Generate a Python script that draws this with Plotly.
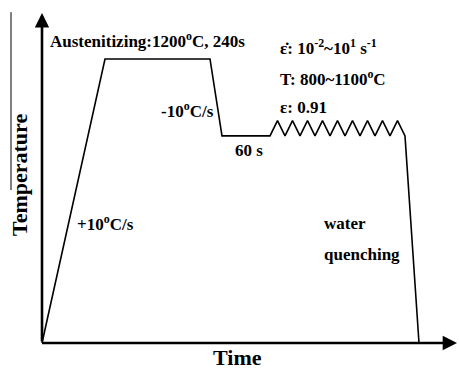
import plotly.graph_objects as go

# Schematic thermal profile (time in arbitrary units, temperature in °C)
time = [0, 63, 168, 180, 228,
        235.5, 243, 250.5, 258, 265.5, 273, 280.5, 288, 295.5, 303,
        310.5, 318, 325.5, 333, 340.5, 348, 355.5, 363, 377]
temp = [0, 1200, 1200, 875, 875,
        940, 875, 940, 875, 940, 875, 940, 875, 940, 875,
        940, 875, 940, 875, 940, 875, 940, 875, 0]

x_title = "Time"
y_title = "Temperature"
labels = [
    ("Austenitizing:1200<sup>o</sup>C, 240s", 6, 1280),
    ("-10<sup>o</sup>C/s", 117, 985),
    ("60 s", 191, 815),
    ("\u03b5\u0307: 10<sup>-2</sup>~10<sup>1</sup> s<sup>-1</sup>", 236, 1251),
    ("T: 800~1100<sup>o</sup>C", 236, 1120),
    ("\u03b5: 0.91", 236, 993),
    ("+10<sup>o</sup>C/s", 33, 507),
    ("water", 280, 507),
    ("quenching", 280, 372),
]

FONT = "Liberation Serif"
k = 284 / 1200.0  # px per degree (layout scale)

fig = go.Figure()
fig.add_trace(go.Scatter(x=time, y=temp, mode="lines",
                         line=dict(color="black", width=1.6),
                         hoverinfo="skip", showlegend=False))

ann = []
# axes with arrows
ann.append(dict(x=0, y=1394, ax=0, ay=0, xref="x", yref="y", axref="x", ayref="y",
                showarrow=True, arrowhead=2, arrowsize=1.1, arrowwidth=2.6,
                arrowcolor="black", standoff=0, text=""))
ann.append(dict(x=415, y=0, ax=-1.5, ay=0, xref="x", yref="y", axref="x", ayref="y",
                showarrow=True, arrowhead=2, arrowsize=1.1, arrowwidth=2.6,
                arrowcolor="black", standoff=0, text=""))
for t, x, y in labels:
    ann.append(dict(x=x, y=y, xref="x", yref="y", text="<b>" + t + "</b>",
                    showarrow=False, xanchor="left", yanchor="middle",
                    font=dict(family=FONT, size=17, color="black")))
ann.append(dict(x=195, y=-62, xref="x", yref="y", text="<b>" + x_title + "</b>",
                showarrow=False, xanchor="center", yanchor="middle",
                font=dict(family=FONT, size=22, color="black")))
ann.append(dict(x=-22, y=710, xref="x", yref="y", text="<b>" + y_title + "</b>",
                showarrow=False, textangle=-90, xanchor="center", yanchor="middle",
                font=dict(family=FONT, size=22, color="black")))

fig.update_layout(
    width=459, height=370,
    margin=dict(l=0, r=0, t=0, b=0),
    paper_bgcolor="white", plot_bgcolor="white",
    xaxis=dict(range=[-42, 417], visible=False, fixedrange=True),
    yaxis=dict(range=[-27 / k, 343 / k], visible=False, fixedrange=True),
    annotations=ann,
    shapes=[dict(type="line", xref="x", yref="y", x0=-31, x1=-31,
                 y0=1398, y1=646, line=dict(color="black", width=1))],
    showlegend=False,
)

fig.write_html("out.html", config={"displayModeBar": False},
               post_script="document.body.style.margin='0';document.body.style.overflow='hidden';")
